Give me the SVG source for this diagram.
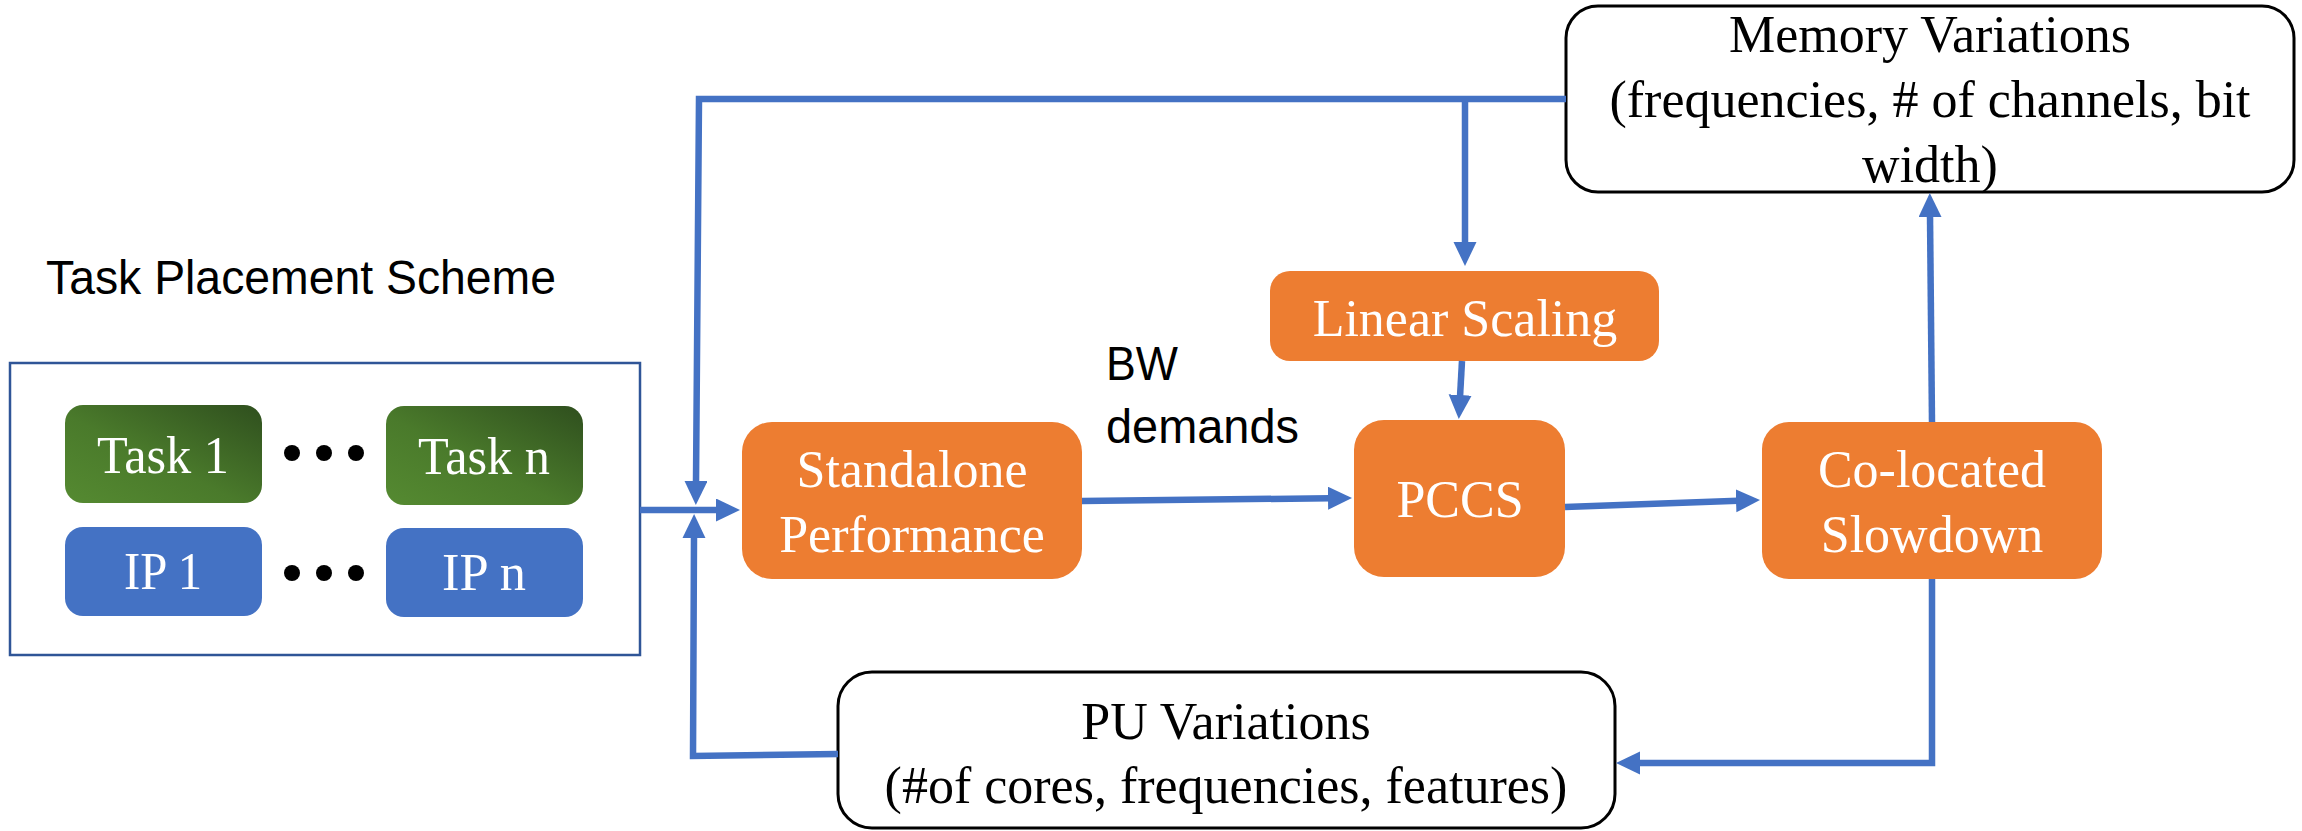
<svg xmlns="http://www.w3.org/2000/svg" width="2302" height="831" viewBox="0 0 2302 831">
  <defs>
    <linearGradient id="taskFill" x1="0" y1="1" x2="1" y2="0">
      <stop offset="0" stop-color="#558a31"/>
      <stop offset="0.45" stop-color="#4a7a2b"/>
      <stop offset="1" stop-color="#2f4f1e"/>
    </linearGradient>
    <marker id="arrow" markerUnits="userSpaceOnUse" markerWidth="26" markerHeight="24" refX="2" refY="11.5" orient="auto">
      <path d="M0,0 L24,11.5 L0,23 Z" fill="#4472c4"/>
    </marker>
    <style>
      .serif { font-family: "Liberation Serif", "Times New Roman", serif; font-size: 52px; text-anchor: middle; }
      .sans { font-family: "Liberation Sans", Arial, sans-serif; font-size: 48px; fill: #000; }
      .white { fill: #ffffff; }
      .black { fill: #000000; }
      .proc { fill: #ed7d31; }
      .ip { fill: #4472c4; }
      .task { fill: url(#taskFill); }
      .var { fill: #ffffff; stroke: #000000; stroke-width: 3; }
      .dot { fill: #000000; }
      .conn { fill: none; stroke: #4472c4; stroke-width: 6.5; stroke-linejoin: miter; }
    </style>
  </defs>

  <rect width="2302" height="831" fill="#ffffff"/>

  <!-- Task placement scheme: caption and container -->
  <g id="placement">
    <text class="sans" x="46" y="294" textLength="510" lengthAdjust="spacingAndGlyphs">Task Placement Scheme</text>
    <rect x="10" y="363" width="630" height="292" fill="#ffffff" stroke="#2f5597" stroke-width="2.5"/>
  </g>

  <g id="task1">
    <rect class="task" x="65" y="405" width="197" height="98" rx="18"/>
    <text class="serif white" x="163" y="473" textLength="132" lengthAdjust="spacingAndGlyphs">Task 1</text>
  </g>
  <g id="taskn">
    <rect class="task" x="386" y="406" width="197" height="99" rx="18"/>
    <text class="serif white" x="484" y="474" textLength="132" lengthAdjust="spacingAndGlyphs">Task n</text>
  </g>
  <g id="ip1">
    <rect class="ip" x="65" y="527" width="197" height="89" rx="18"/>
    <text class="serif white" x="163" y="589" textLength="78" lengthAdjust="spacingAndGlyphs">IP 1</text>
  </g>
  <g id="ipn">
    <rect class="ip" x="386" y="528" width="197" height="89" rx="18"/>
    <text class="serif white" x="484" y="590" textLength="84" lengthAdjust="spacingAndGlyphs">IP n</text>
  </g>
  <g id="ellipsis">
    <circle class="dot" cx="292" cy="453" r="8"/>
    <circle class="dot" cx="324" cy="453" r="8"/>
    <circle class="dot" cx="356" cy="453" r="8"/>
    <circle class="dot" cx="292" cy="573" r="8"/>
    <circle class="dot" cx="324" cy="573" r="8"/>
    <circle class="dot" cx="356" cy="573" r="8"/>
  </g>

  <!-- Processing stages -->
  <g id="standalone">
    <rect class="proc" x="742" y="422" width="340" height="157" rx="30"/>
    <text class="serif white" x="912" y="487">Standalone</text>
    <text class="serif white" x="912" y="552">Performance</text>
  </g>
  <g id="linear-scaling">
    <rect class="proc" x="1270" y="271" width="389" height="90" rx="20"/>
    <text class="serif white" x="1465" y="336">Linear Scaling</text>
  </g>
  <g id="pccs">
    <rect class="proc" x="1354" y="420" width="211" height="157" rx="30"/>
    <text class="serif white" x="1460" y="517">PCCS</text>
  </g>
  <g id="colocated">
    <rect class="proc" x="1762" y="422" width="340" height="157" rx="27"/>
    <text class="serif white" x="1932" y="487">Co-located</text>
    <text class="serif white" x="1932" y="552">Slowdown</text>
  </g>

  <!-- Variation sources -->
  <g id="memory-variations">
    <rect class="var" x="1566" y="6" width="728" height="186" rx="32"/>
    <text class="serif black" x="1930" y="52">Memory Variations</text>
    <text class="serif black" x="1930" y="117">(frequencies, # of channels, bit</text>
    <text class="serif black" x="1930" y="182">width)</text>
  </g>
  <g id="pu-variations">
    <rect class="var" x="838" y="672" width="777" height="156" rx="34"/>
    <text class="serif black" x="1226" y="739">PU Variations</text>
    <text class="serif black" x="1226" y="803">(#of cores, frequencies, features)</text>
  </g>

  <g id="bw-label">
    <text class="sans" x="1106" y="380" textLength="72" lengthAdjust="spacingAndGlyphs">BW</text>
    <text class="sans" x="1106" y="443" textLength="193" lengthAdjust="spacingAndGlyphs">demands</text>
  </g>

  <!-- Connectors -->
  <g id="connectors">
    <path class="conn" d="M1566,99 L699,99 L696,483" marker-end="url(#arrow)"/>
    <path class="conn" d="M1465,99 L1465,244" marker-end="url(#arrow)"/>
    <path class="conn" d="M1462,361 L1460,397" marker-end="url(#arrow)"/>
    <path class="conn" d="M640,510 L718,510" marker-end="url(#arrow)"/>
    <path class="conn" d="M838,754 L693,756 L694,536" marker-end="url(#arrow)"/>
    <path class="conn" d="M1082,501 L1330,498.2" marker-end="url(#arrow)"/>
    <path class="conn" d="M1565,507 L1738,500.8" marker-end="url(#arrow)"/>
    <path class="conn" d="M1932,422 L1930,215" marker-end="url(#arrow)"/>
    <path class="conn" d="M1932,579 L1932,763 L1638,763" marker-end="url(#arrow)"/>
  </g>
</svg>
